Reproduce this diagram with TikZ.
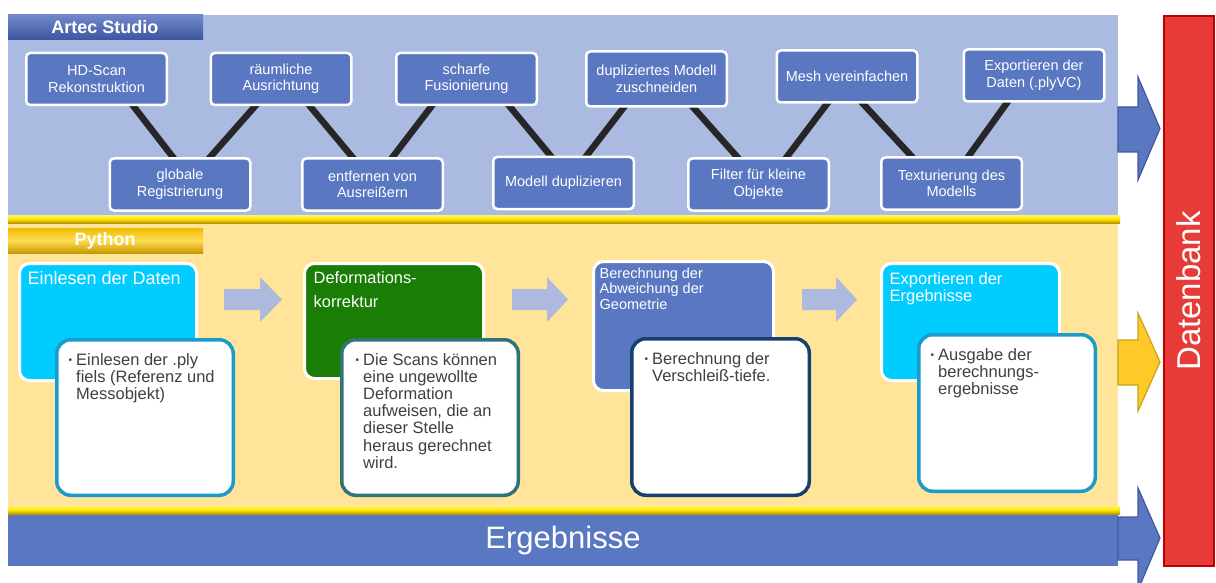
\documentclass[tikz,border=0pt]{standalone}
\usepackage{fontspec}
\setmainfont{Liberation Sans}
\usetikzlibrary{calc}
\definecolor{panelblue}{HTML}{ABBAE0}
\definecolor{boxblue}{HTML}{5A77C1}
\definecolor{paneyellow}{HTML}{FFE49A}
\definecolor{cyanbox}{HTML}{00CCFF}
\definecolor{greenbox}{HTML}{1A7D05}
\definecolor{lavarrow}{HTML}{AEBADD}
\definecolor{dbred}{HTML}{E63B37}
\definecolor{dbredline}{HTML}{C00000}
\definecolor{arrowline}{HTML}{41589E}
\definecolor{goldfill}{HTML}{FFC928}
\definecolor{goldline}{HTML}{C9A21A}
\definecolor{conncol}{HTML}{262626}
\definecolor{txtgray}{HTML}{404040}
\definecolor{bordcyan}{HTML}{1A9BCB}
\definecolor{bordteal}{HTML}{31737A}
\definecolor{bordnavy}{HTML}{17406D}
\definecolor{hdrbluetop}{HTML}{7188CC}
\definecolor{hdrbluebot}{HTML}{3C559E}
\definecolor{hdrgoldtop}{HTML}{EDBD00}
\definecolor{hdrgoldmid}{HTML}{FFDC55}
\definecolor{hdrgoldbot}{HTML}{C89800}
\definecolor{septop}{HTML}{FFF36B}
\definecolor{sepmid}{HTML}{FFE600}
\definecolor{sepbot}{HTML}{B89600}
\pgfdeclarelayer{bg}\pgfdeclarelayer{lines}\pgfsetlayers{bg,lines,main}
\begin{document}
\begin{tikzpicture}[x=1pt,y=-1pt,
  abox/.style={draw=white, line width=2.5pt, fill=boxblue, rounded corners=4pt, text=white,
    font=\fontsize{14.5}{16.5}\selectfont, align=center, inner sep=0pt,
    minimum width=140.5pt, minimum height=52pt},
  conn/.style={draw=conncol, line width=6.5pt, shorten <=-4pt, shorten >=-4pt},
  stepbox/.style={draw=white, line width=3pt, rounded corners=10pt, inner sep=0pt},
  notebox/.style={fill=white, line width=3.5pt, rounded corners=14pt, inner sep=0pt,
    minimum width=176.5pt, minimum height=155.5pt},
  title/.style={anchor=north west, inner sep=0pt, text=white, align=left},
  note/.style={anchor=north west, inner sep=0pt, text=txtgray, align=left,
    font=\fontsize{16.5}{17.2}\selectfont},
  blockarrow/.style={fill=lavarrow},
  hdr/.style={text=white, font=\bfseries\fontsize{18}{20}\selectfont, inner sep=0pt},
  sep/.style={top color=septop, bottom color=sepbot, middle color=sepmid},
]
\newcommand{\bul}{\llap{\raisebox{1.5pt}{\fontsize{10}{10}\selectfont •}\hspace{4pt}}}
\useasboundingbox (0,0) rectangle (1216,583);

% panels
\begin{pgfonlayer}{bg}
\fill[panelblue] (8,15) rectangle (1118,217);
\fill[paneyellow] (8,221) rectangle (1118,508);
\shade[top color=hdrbluetop, bottom color=hdrbluebot] (8,15) rectangle (203,40);
\shade[top color=hdrgoldtop, bottom color=hdrgoldbot, middle color=hdrgoldmid] (8,228) rectangle (203,253);
\shade[sep] (8,215) rectangle (1120,223);
\shade[sep] (8,506) rectangle (1120,514);
\end{pgfonlayer}

\node[hdr] (artec) at (105,27.5) {Artec Studio};
\node[hdr] (python) at (105,240.5) {Python};

% Artec boxes
\node[abox] (hd) at (96.5,79) {HD-Scan\\Rekonstruktion};
\node[abox] (ra) at (281,79) {räumliche\\Ausrichtung};
\node[abox] (sf) at (466.5,79) {scharfe\\Fusionierung};
\node[abox, minimum height=55pt] (dm) at (656.5,79) {dupliziertes Modell\\zuschneiden};
\node[abox] (mv) at (847,76.5) {Mesh vereinfachen};
\node[abox] (ex) at (1034,75.5) {Exportieren der\\Daten (.plyVC)};
\node[abox] (gr) at (180,184.5) {globale\\Registrierung};
\node[abox] (ea) at (372.5,184.5) {entfernen von\\Ausreißern};
\node[abox] (md) at (563.5,183) {Modell duplizieren};
\node[abox] (fk) at (758.5,184.5) {Filter für kleine\\Objekte};
\node[abox] (tm) at (951.5,183.5) {Texturierung des\\Modells};

\begin{pgfonlayer}{lines}
\draw[conn] ([xshift=37pt]hd.south) -- ([xshift=-7pt]gr.north);
\draw[conn] ([xshift=-26pt]ra.south) -- ([xshift=30pt]gr.north);
\draw[conn] ([xshift=29pt]ra.south) -- ([xshift=-20pt]ea.north);
\draw[conn] ([xshift=20pt]ea.north) -- ([xshift=-35pt]sf.south);
\draw[conn] ([xshift=43pt]sf.south) -- ([xshift=-13pt]md.north);
\draw[conn] ([xshift=23pt]md.north) -- ([xshift=-33pt]dm.south);
\draw[conn] ([xshift=37pt]dm.south) -- ([xshift=-21pt]fk.north);
\draw[conn] ([xshift=28pt]fk.north) -- ([xshift=-20pt]mv.south);
\draw[conn] ([xshift=16pt]mv.south) -- ([xshift=-40pt]tm.north);
\draw[conn] ([xshift=17pt]tm.north) -- ([xshift=-27pt]ex.south);
\end{pgfonlayer}

% Python steps
\node[stepbox, fill=cyanbox, minimum width=177pt, minimum height=117pt] (s1) at (108,322) {};
\node[title, font=\fontsize{18}{20}\selectfont] (t1) at ([xshift=9.5pt,yshift=-9.5pt]s1.north west) {Einlesen der Daten};
\node[notebox, draw=bordcyan] (n1) at (145,417.5) {};
\node[note] (nt1) at ([xshift=21pt,yshift=-15pt]n1.north west) {\bul Einlesen der .ply\\fiels (Referenz und\\Messobjekt)};

\node[stepbox, fill=greenbox, minimum width=179pt, minimum height=115pt] (s2) at (394,321) {};
\node[title, font=\fontsize{16.4}{24}\selectfont] (t2) at ([xshift=10.5pt,yshift=-9.5pt]s2.north west) {Deformations-\\korrektur};
\node[notebox, draw=bordteal] (n2) at (430,417.5) {};
\node[note] (nt2) at ([xshift=23pt,yshift=-15pt]n2.north west) {\bul Die Scans können\\eine ungewollte\\Deformation\\aufweisen, die an\\dieser Stelle\\heraus gerechnet\\wird.};

\node[stepbox, fill=boxblue, minimum width=180pt, minimum height=129pt] (s3) at (683.5,326) {};
\node[title, font=\fontsize{14.5}{15.5}\selectfont] (t3) at ([xshift=7.5pt,yshift=-7.5pt]s3.north west) {Berechnung der\\Abweichung der\\Geometrie};
\node[notebox, draw=bordnavy, minimum width=177.5pt, minimum height=156.5pt] (n3) at (720.5,417) {};
\node[note] (nt3) at ([xshift=22pt,yshift=-15pt]n3.north west) {\bul Berechnung der\\Verschleiß-tiefe.};

\node[stepbox, fill=cyanbox, minimum width=178pt, minimum height=117pt] (s4) at (970.5,322) {};
\node[title, font=\fontsize{16.5}{17}\selectfont] (t4) at ([xshift=9.5pt,yshift=-10.5pt]s4.north west) {Exportieren der\\Ergebnisse};
\node[notebox, draw=bordcyan, minimum height=156.5pt] (n4) at (1007,413) {};
\node[note] (nt4) at ([xshift=21pt,yshift=-15pt]n4.north west) {\bul Ausgabe der\\berechnungs-\\ergebnisse};

% lavender block arrows
\fill[blockarrow] (224,289) -- (260,289) -- (260,277) -- (282,299.5) -- (260,322) -- (260,310) -- (224,310) -- cycle;
\fill[blockarrow] (512,289) -- (547,289) -- (547,277) -- (568,299.5) -- (547,322) -- (547,310) -- (512,310) -- cycle;
\fill[blockarrow] (802,289) -- (836,289) -- (836,277) -- (857,299.5) -- (836,322) -- (836,310) -- (802,310) -- cycle;

% Ergebnisse bar
\node[fill=boxblue, minimum width=1110pt, minimum height=51pt, inner sep=0pt, text=white,
  font=\fontsize{31}{33}\selectfont] (erg) at (563,540.5) {Ergebnisse};

% right arrows
\draw[fill=boxblue, draw=arrowline, line width=1.2pt] (1118,107) -- (1138,107) -- (1138,77) -- (1160,128.5) -- (1138,180) -- (1138,152) -- (1118,152) -- cycle;
\draw[fill=goldfill, draw=goldline, line width=1.2pt] (1118,340) -- (1138,340) -- (1138,313) -- (1160,362) -- (1138,411) -- (1138,385) -- (1118,385) -- cycle;
\draw[fill=boxblue, draw=arrowline, line width=1.2pt] (1118,517) -- (1138,517) -- (1138,488) -- (1160,538) -- (1138,590) -- (1138,560) -- (1118,560) -- cycle;

% Datenbank
\node[fill=dbred, draw=dbredline, line width=2pt, rotate=90, minimum width=550pt, minimum height=50pt,
  inner sep=0pt, text=white, font=\fontsize{33}{35}\selectfont] (db) at (1189,291) {Datenbank};
\end{tikzpicture}
\end{document}
